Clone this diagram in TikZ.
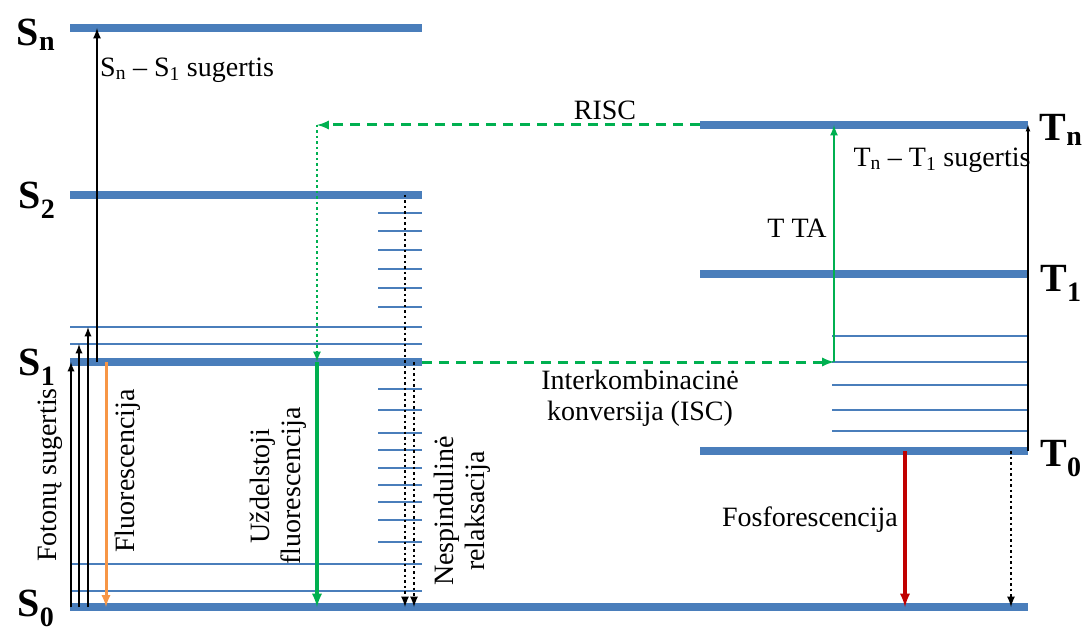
\documentclass[tikz,border=0pt]{standalone}
\usepackage{fontspec}
\setmainfont{Liberation Serif}
\usetikzlibrary{positioning,arrows}
\definecolor{levelblue}{RGB}{74,126,187}
\definecolor{tgreen}{RGB}{0,176,80}
\definecolor{forange}{RGB}{247,150,70}
\definecolor{pred}{RGB}{192,0,0}
\tikzset{
  level/.style={levelblue, line width=8pt},
  sublevel/.style={levelblue, line width=1.4pt},
  lbl/.style={font=\fontsize{28}{31}\selectfont, align=center, inner sep=0pt},
  statelbl/.style={font=\fontsize{40}{40}\selectfont\bfseries, inner sep=0pt},
  absarrow/.style={->, line width=2.2pt},
  relax/.style={->, line width=2.5pt, dash pattern=on 2.5pt off 3pt},
  iscarrow/.style={->, tgreen, line width=3pt, dash pattern=on 10pt off 7pt},
  riscdot/.style={->, tgreen, line width=2.5pt, dash pattern=on 2.5pt off 3pt},
}

\begin{document}
\begin{tikzpicture}[x=1pt, y=-1pt, >=latex]
  \useasboundingbox (0,0) rectangle (1085,631);
  % levels
  \coordinate (Sn) at (70,28);
  \coordinate (S2) at (70,195);
  \coordinate (S1) at (70,362);
  \coordinate (S0) at (70,607);
  \coordinate (Tn) at (700,125);
  \coordinate (T1) at (700,274);
  \coordinate (T0) at (700,451);
  \foreach \l in {Sn,S2,S1} \draw[level] (\l) -- ++(352,0);
  \foreach \l in {Tn,T1,T0} \draw[level] (\l) -- ++(328,0);
  \draw[level] (S0) -- ++(958,0);
  % vibrational sublevels
  \foreach \y in {213,231,250,269,288,307,389,410,433,450,468,485,502,520,542}
    \draw[sublevel] (378,\y) -- (422,\y);
  \foreach \y in {327,344,564,591}
    \draw[sublevel] (70,\y) -- (422,\y);
  \foreach \y in {336,362,385,410,431}
    \draw[sublevel] (832,\y) -- (1028,\y);
  % columns of the transitions
  \coordinate (xa1) at (71,0);
  \coordinate (xa2) at (79,0);
  \coordinate (xa3) at (88,0);
  \coordinate (xsn) at (97,0);
  \coordinate (xfl) at (106,0);
  \coordinate (xdf) at (317,0);
  \coordinate (xnr1) at (405,0);
  \coordinate (xnr2) at (414,0);
  \coordinate (xisc) at (834,0);
  \coordinate (xph) at (905,0);
  \coordinate (xnr3) at (1011,0);
  \coordinate (xtn) at (1028,0);
  % state labels
  \node[statelbl] (lSn) at (36,35) {S\textsubscript{n}};
  \node[statelbl] (lS2) at (37,200) {S\textsubscript{2}};
  \node[statelbl] (lS1) at (37,367) {S\textsubscript{1}};
  \node[statelbl] (lS0) at (36,608) {S\textsubscript{0}};
  \node[statelbl] (lTn) at (1061,130) {T\textsubscript{n}};
  \node[statelbl] (lT1) at (1061,283) {T\textsubscript{1}};
  \node[statelbl] (lT0) at (1061,459) {T\textsubscript{0}};
  % absorption
  \draw[absarrow] (xa1 |- S0) -- (xa1 |- S1);
  \draw[absarrow] (xa2 |- S0) -- ([yshift=18pt]xa2 |- S1);
  \draw[absarrow] (xa3 |- S0) -- ([yshift=35pt]xa3 |- S1);
  \draw[->, line width=2.5pt] (xsn |- S1) -- (xsn |- Sn);
  \node[lbl, anchor=west] (lsnabs) at (100,70) {S\textsubscript{n} -- S\textsubscript{1} sugertis};
  \node[lbl, rotate=90] (lfot) at (50,475) {Fotonų sugertis};
  % fluorescence
  \draw[->, forange, line width=3pt] (xfl |- S1) -- (xfl |- S0);
  \node[lbl, rotate=90] (lfl) at (128,471) {Fluorescencija};
  \draw[->, tgreen, line width=3.5pt] (xdf |- S1) -- (xdf |- S0);
  \node[lbl, rotate=90] (ldf) at (278,486) {Uždelstoji\\fluorescencija};
  % non-radiative relaxation
  \draw[relax] (xnr1 |- S2) -- (xnr1 |- S0);
  \draw[relax] (xnr2 |- S1) -- (xnr2 |- S0);
  \draw[relax] (xnr3 |- T0) -- (xnr3 |- S0);
  \node[lbl, rotate=90] (lnr) at (462,511) {Nespindulinė\\relaksacija};
  % ISC, TTA, RISC
  \draw[iscarrow] ([xshift=352pt]S1) -- (xisc |- S1);
  \node[lbl] (lisc) at (640,398) {Interkombinacinė\\konversija (ISC)};
  \draw[->, tgreen, line width=2.5pt] (xisc |- S1) -- (xisc |- Tn);
  \node[lbl] (ltta) at (797,228) {T TA};
  \draw[iscarrow] (Tn) -- (xdf |- Tn);
  \draw[riscdot] (xdf |- Tn) -- (xdf |- S1);
  \node[lbl] (lrisc) at (605,110) {RISC};
  % triplet absorption and phosphorescence
  \draw[->, line width=1.2pt] (xtn |- T0) -- (xtn |- Tn);
  \node[lbl] (ltnabs) at (942,160) {T\textsubscript{n} -- T\textsubscript{1} sugertis};
  \draw[->, pred, line width=3.5pt] (xph |- T0) -- (xph |- S0);
  \node[lbl] (lph) at (810,520) {Fosforescencija};
\end{tikzpicture}
\end{document}
